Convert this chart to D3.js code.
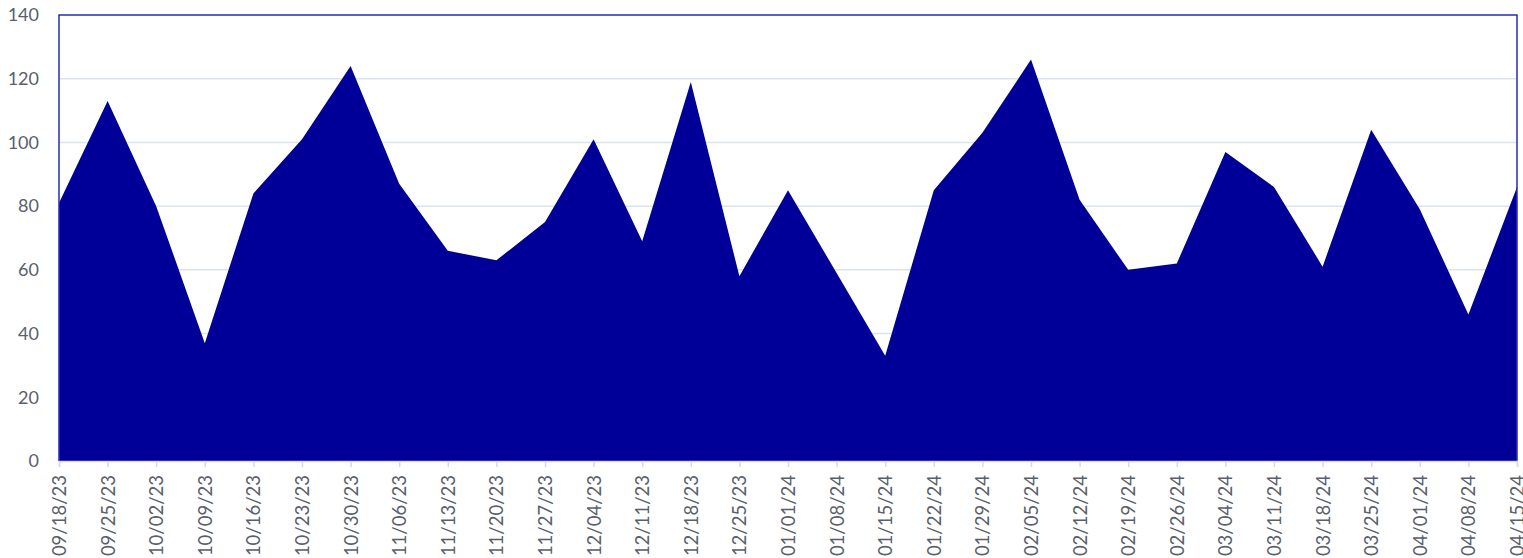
<!DOCTYPE html>
<html><head><meta charset="utf-8">
<script src="https://cdn.jsdelivr.net/npm/d3@7"></script>
<style>body{margin:0;background:#fff}svg{display:block}</style>
</head><body>
<svg id="c" width="1523" height="558"></svg>
<script>
const categories = ["09/18/23","09/25/23","10/02/23","10/09/23","10/16/23","10/23/23","10/30/23","11/06/23","11/13/23","11/20/23","11/27/23","12/04/23","12/11/23","12/18/23","12/25/23","01/01/24","01/08/24","01/15/24","01/22/24","01/29/24","02/05/24","02/12/24","02/19/24","02/26/24","03/04/24","03/11/24","03/18/24","03/25/24","04/01/24","04/08/24","04/15/24"];
const values = [81,113,80,37,84,101,124,87,66,63,75,101,69,119,58,85,59,33,85,103,126,82,60,62,97,86,61,104,79,46,86];
const yTicks = [0,20,40,60,80,100,120,140];

const svg = d3.select("#c");
const m = {l:59, r:1517, t:15, b:461};
const x = d3.scalePoint().domain(categories).range([m.l, m.r]);
const y = d3.scaleLinear().domain([0,140]).range([m.b, m.t]);
const font = "Lato, 'Open Sans', sans-serif";

// gridlines
svg.append("g").selectAll("line").data(yTicks.filter(d=>d>0 && d<140)).join("line")
  .attr("x1", m.l).attr("x2", m.r).attr("y1", d=>y(d)).attr("y2", d=>y(d))
  .attr("stroke", "#dde3ea").attr("stroke-width", 1.5);

// area
const area = d3.area().x((d,i)=>x(categories[i])).y0(y(0)).y1(d=>y(d));
svg.append("path").datum(values).attr("d", area).attr("fill", "#000099");

// border (top, left, right)
svg.append("path")
  .attr("d", `M${m.l},${m.b}V${m.t}H${m.r}V${m.b}`)
  .attr("fill","none").attr("stroke","#2a2ab8").attr("stroke-width",1.5);

// y axis
const ya = svg.append("g").attr("transform", `translate(${m.l},0)`)
  .call(d3.axisLeft(y).tickValues(yTicks).tickSize(0).tickPadding(20));
ya.select(".domain").remove();
ya.selectAll("text").attr("fill","#59606b").style("font-family",font).style("font-size","18px");

// x axis
const xa = svg.append("g").attr("transform", `translate(0,${m.b})`)
  .call(d3.axisBottom(x).tickSize(6).tickPadding(8));
xa.select(".domain").attr("stroke","#d5dbe3").attr("stroke-width",1.5);
xa.selectAll(".tick line").attr("stroke","#d5dbe3").attr("stroke-width",1.5);
xa.selectAll("text").attr("fill","#59606b").style("font-family",font).style("font-size","18.5px")
  .attr("transform","rotate(-90)").attr("text-anchor","end")
  .attr("x",-14).attr("y",0).attr("dy","0.35em");
</script>
</body></html>
